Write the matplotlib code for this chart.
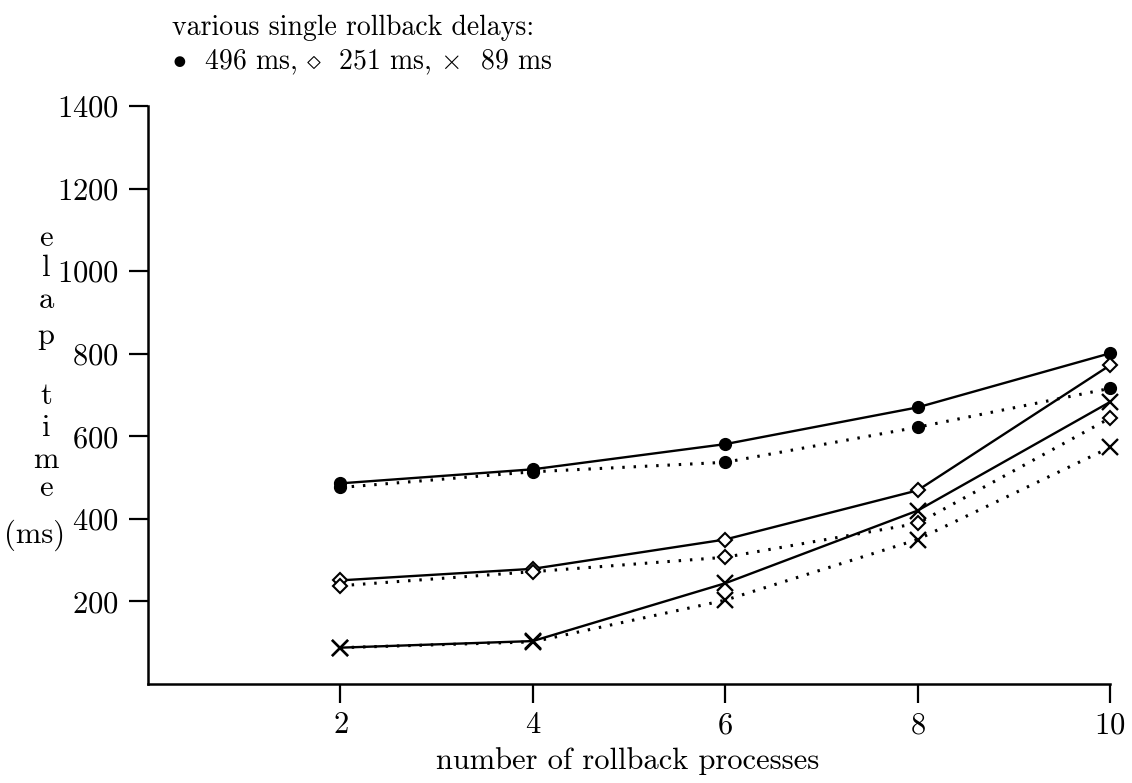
import matplotlib
matplotlib.use("Agg")
import matplotlib.pyplot as plt

plt.rcParams["font.family"] = ["cmr10", "DejaVu Serif"]
plt.rcParams["mathtext.fontset"] = "cm"
plt.rcParams["axes.formatter.use_mathtext"] = True

# number of rollback processes
procs = [2, 4, 6, 8, 10]

# elapsed time (ms) per single rollback delay; solid and dotted series
solid_496 = [486, 520, 581, 670, 801]
dotted_496 = [476, 514, 537, 622, 716]
solid_251 = [251, 279, 350, 469, 772]
dotted_251 = [238, 272, 307, 389, 644]
solid_89 = [88, 104, 244, 420, 683]
dotted_89 = [88, 102, 203, 350, 573]

xticks = [2, 4, 6, 8, 10]
yticks = [200, 400, 600, 800, 1000, 1200, 1400]

W, H = 1132, 783
fig = plt.figure(figsize=(W / 100, H / 100), dpi=100)
ax = fig.add_axes([148 / W, 1 - 684 / H, (1110 - 148) / W, (684 - 106) / H])

dot = (0, (0.8, 2.9))
circ = dict(marker="o", ms=8.5, mfc="black", mec="black")
diam = dict(marker="D", ms=7, mfc="white", mec="black", mew=1.5)
cross = dict(marker="x", ms=12, mec="black", mew=1.7)
series = [
    (solid_496, "-", circ),
    (dotted_496, dot, circ),
    (solid_251, "-", diam),
    (dotted_251, dot, diam),
    (solid_89, "-", cross),
    (dotted_89, dot, cross),
]
for vals, ls, mk in series:
    ax.plot(procs, vals, color="black", ls=ls, lw=1.7 if ls == "-" else 2.2,
            clip_on=False, **mk)

ax.set_xlim(0, 10)
ax.set_ylim(0, 1400)
ax.set_xticks(xticks)
ax.set_yticks(yticks)
ax.spines["top"].set_visible(False)
ax.spines["right"].set_visible(False)
for s in ("left", "bottom"):
    ax.spines[s].set_linewidth(1.8)
ax.tick_params(axis="both", direction="out", length=14, width=1.6, labelsize=22)
ax.tick_params(axis="x", pad=6)
ax.tick_params(axis="y", pad=7)

fig.text(628 / W, 1 - 761 / H, "number of rollback processes", fontsize=22,
         ha="center", va="center")

# stacked vertical y label
label_chars = ["e", "l", "a", "p", "t", "i", "m", "e"]
label_y = [238, 268, 300, 336, 396, 428, 460, 488]
for ch, yy in zip(label_chars, label_y):
    fig.text(46 / W, 1 - yy / H, ch, fontsize=22, ha="center", va="center")
fig.text(35 / W, 1 - 535 / H, "(ms)", fontsize=22, ha="center", va="center")

fig.text(172 / W, 1 - 28 / H, "various single rollback delays:", fontsize=20,
         ha="left", va="center")
fig.text(172 / W, 1 - 62 / H,
         r"$\bullet$  496 ms, $\diamond$  251 ms, $\times$  89 ms",
         fontsize=20, ha="left", va="center")

fig.savefig("out.png", dpi=100)
